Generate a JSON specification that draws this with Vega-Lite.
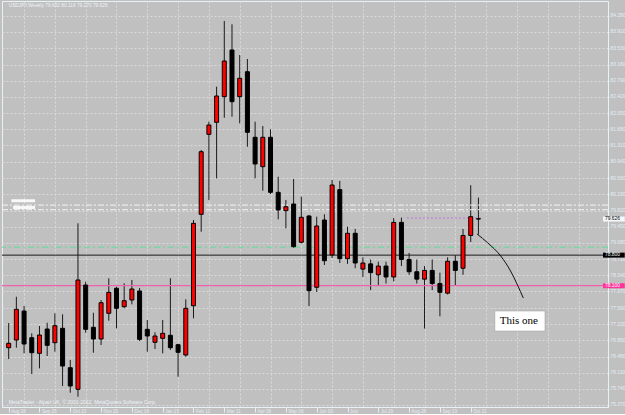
{
  "$schema": "https://vega.github.io/schema/vega-lite/v6.json",
  "width": 606,
  "height": 406,
  "padding": {"left": 1, "top": 1, "right": 0, "bottom": 0},
  "background": "#c0c0c0",
  "config": {"view": {"stroke": "#e6f2f5", "strokeWidth": 1, "fill": "#c0c0c0"}, "font": "Liberation Sans"},
  "data": {"values": [
    {"date": "2011-08-28", "open": 76.681, "high": 77.246, "low": 76.422, "close": 76.782},
    {"date": "2011-09-04", "open": 76.857, "high": 77.848, "low": 76.681, "close": 77.560},
    {"date": "2011-09-11", "open": 77.521, "high": 77.636, "low": 76.553, "close": 76.766},
    {"date": "2011-09-18", "open": 76.910, "high": 77.011, "low": 76.079, "close": 76.567},
    {"date": "2011-09-25", "open": 76.553, "high": 77.178, "low": 76.210, "close": 76.972},
    {"date": "2011-10-02", "open": 77.109, "high": 77.253, "low": 76.491, "close": 76.736},
    {"date": "2011-10-09", "open": 76.796, "high": 77.469, "low": 76.590, "close": 77.185},
    {"date": "2011-10-16", "open": 77.125, "high": 77.446, "low": 75.805, "close": 76.262},
    {"date": "2011-10-23", "open": 76.223, "high": 76.400, "low": 75.651, "close": 75.805},
    {"date": "2011-10-30", "open": 75.729, "high": 79.528, "low": 75.560, "close": 78.231},
    {"date": "2011-11-06", "open": 78.116, "high": 78.192, "low": 77.025, "close": 77.102},
    {"date": "2011-11-13", "open": 77.148, "high": 77.482, "low": 76.567, "close": 76.880},
    {"date": "2011-11-20", "open": 76.880, "high": 77.773, "low": 76.743, "close": 77.711},
    {"date": "2011-11-27", "open": 77.469, "high": 78.270, "low": 77.299, "close": 77.949},
    {"date": "2011-12-04", "open": 78.041, "high": 78.077, "low": 77.125, "close": 77.583},
    {"date": "2011-12-11", "open": 77.620, "high": 78.155, "low": 77.583, "close": 77.757},
    {"date": "2011-12-18", "open": 77.773, "high": 78.231, "low": 77.674, "close": 78.025},
    {"date": "2011-12-25", "open": 77.979, "high": 78.048, "low": 76.835, "close": 76.873},
    {"date": "2012-01-01", "open": 77.102, "high": 77.315, "low": 76.590, "close": 76.949},
    {"date": "2012-01-08", "open": 76.805, "high": 77.034, "low": 76.651, "close": 76.949},
    {"date": "2012-01-15", "open": 76.896, "high": 77.315, "low": 76.553, "close": 77.011},
    {"date": "2012-01-22", "open": 76.965, "high": 78.270, "low": 76.629, "close": 76.681},
    {"date": "2012-01-29", "open": 76.750, "high": 76.770, "low": 76.017, "close": 76.576},
    {"date": "2012-02-05", "open": 76.514, "high": 77.789, "low": 76.475, "close": 77.583},
    {"date": "2012-02-12", "open": 77.642, "high": 79.604, "low": 77.354, "close": 79.528},
    {"date": "2012-02-19", "open": 79.734, "high": 81.206, "low": 79.336, "close": 81.167},
    {"date": "2012-02-26", "open": 81.565, "high": 81.854, "low": 80.062, "close": 81.778},
    {"date": "2012-03-04", "open": 81.840, "high": 82.655, "low": 80.558, "close": 82.442},
    {"date": "2012-03-11", "open": 82.426, "high": 84.159, "low": 81.945, "close": 83.243},
    {"date": "2012-03-18", "open": 83.495, "high": 84.083, "low": 81.968, "close": 82.312},
    {"date": "2012-03-25", "open": 82.426, "high": 83.380, "low": 81.817, "close": 82.847},
    {"date": "2012-04-01", "open": 82.998, "high": 83.289, "low": 81.282, "close": 81.611},
    {"date": "2012-04-08", "open": 81.497, "high": 81.854, "low": 80.558, "close": 80.886},
    {"date": "2012-04-15", "open": 80.824, "high": 81.755, "low": 80.275, "close": 81.497},
    {"date": "2012-04-22", "open": 81.497, "high": 81.680, "low": 80.199, "close": 80.238},
    {"date": "2012-04-29", "open": 80.238, "high": 80.595, "low": 79.620, "close": 79.833},
    {"date": "2012-05-06", "open": 79.817, "high": 80.062, "low": 79.414, "close": 79.908},
    {"date": "2012-05-13", "open": 79.970, "high": 80.542, "low": 78.970, "close": 78.993},
    {"date": "2012-05-20", "open": 79.094, "high": 80.137, "low": 79.071, "close": 79.666},
    {"date": "2012-05-27", "open": 79.696, "high": 79.720, "low": 77.636, "close": 77.986},
    {"date": "2012-06-03", "open": 78.064, "high": 79.680, "low": 77.956, "close": 79.467},
    {"date": "2012-06-10", "open": 79.604, "high": 79.734, "low": 78.574, "close": 78.672},
    {"date": "2012-06-17", "open": 78.803, "high": 80.520, "low": 78.734, "close": 80.405},
    {"date": "2012-06-24", "open": 80.300, "high": 80.500, "low": 78.620, "close": 78.720},
    {"date": "2012-07-01", "open": 78.720, "high": 79.450, "low": 78.600, "close": 79.300},
    {"date": "2012-07-08", "open": 79.300, "high": 79.400, "low": 78.500, "close": 78.620},
    {"date": "2012-07-15", "open": 78.480, "high": 78.750, "low": 78.300, "close": 78.620},
    {"date": "2012-07-22", "open": 78.600, "high": 78.700, "low": 78.000, "close": 78.400},
    {"date": "2012-07-29", "open": 78.350, "high": 78.650, "low": 78.100, "close": 78.550},
    {"date": "2012-08-05", "open": 78.550, "high": 78.650, "low": 78.150, "close": 78.300},
    {"date": "2012-08-12", "open": 78.300, "high": 79.650, "low": 78.200, "close": 79.550},
    {"date": "2012-08-19", "open": 79.550, "high": 79.660, "low": 78.550, "close": 78.700},
    {"date": "2012-08-26", "open": 78.700, "high": 78.850, "low": 78.350, "close": 78.420},
    {"date": "2012-09-02", "open": 78.420, "high": 78.700, "low": 78.150, "close": 78.250},
    {"date": "2012-09-09", "open": 78.250, "high": 78.550, "low": 77.120, "close": 78.450},
    {"date": "2012-09-16", "open": 78.450, "high": 78.700, "low": 78.000, "close": 78.150},
    {"date": "2012-09-23", "open": 78.150, "high": 78.400, "low": 77.400, "close": 77.950},
    {"date": "2012-09-30", "open": 77.930, "high": 78.750, "low": 77.900, "close": 78.660},
    {"date": "2012-10-07", "open": 78.660, "high": 78.800, "low": 78.100, "close": 78.450},
    {"date": "2012-10-14", "open": 78.500, "high": 79.400, "low": 78.350, "close": 79.250},
    {"date": "2012-10-21", "open": 79.250, "high": 80.400, "low": 79.100, "close": 79.680},
    {"date": "2012-10-28", "open": 79.632, "high": 80.116, "low": 79.270, "close": 79.626}
  ]},
  "layer": [
    {
      "mark": {"type": "rule", "color": "#1a1a1a", "strokeWidth": 1},
      "encoding": {
        "x": {
          "field": "date", "type": "temporal",
          "scale": {"type": "utc", "domain": [
            {"year": 2011, "month": 8, "date": 26, "hours": 11, "minutes": 30, "utc": true},
            {"year": 2013, "month": 2, "date": 18, "hours": 5, "minutes": 45, "utc": true}
          ]},
          "axis": {
            "title": null,
            "tickCount": 200,
            "values": [
              {"year": 2011, "month": 8, "date": 28, "utc": true},
              {"year": 2011, "month": 9, "date": 11, "utc": true},
              {"year": 2011, "month": 9, "date": 25, "utc": true},
              {"year": 2011, "month": 10, "date": 9, "utc": true},
              {"year": 2011, "month": 10, "date": 23, "utc": true},
              {"year": 2011, "month": 11, "date": 6, "utc": true},
              {"year": 2011, "month": 11, "date": 20, "utc": true},
              {"year": 2011, "month": 12, "date": 4, "utc": true},
              {"year": 2011, "month": 12, "date": 18, "utc": true},
              {"year": 2012, "month": 1, "date": 1, "utc": true},
              {"year": 2012, "month": 1, "date": 15, "utc": true},
              {"year": 2012, "month": 1, "date": 29, "utc": true},
              {"year": 2012, "month": 2, "date": 12, "utc": true},
              {"year": 2012, "month": 2, "date": 26, "utc": true},
              {"year": 2012, "month": 3, "date": 11, "utc": true},
              {"year": 2012, "month": 3, "date": 25, "utc": true},
              {"year": 2012, "month": 4, "date": 8, "utc": true},
              {"year": 2012, "month": 4, "date": 22, "utc": true},
              {"year": 2012, "month": 5, "date": 6, "utc": true},
              {"year": 2012, "month": 5, "date": 20, "utc": true},
              {"year": 2012, "month": 6, "date": 3, "utc": true},
              {"year": 2012, "month": 6, "date": 17, "utc": true},
              {"year": 2012, "month": 7, "date": 1, "utc": true},
              {"year": 2012, "month": 7, "date": 15, "utc": true},
              {"year": 2012, "month": 7, "date": 29, "utc": true},
              {"year": 2012, "month": 8, "date": 12, "utc": true},
              {"year": 2012, "month": 8, "date": 26, "utc": true},
              {"year": 2012, "month": 9, "date": 9, "utc": true},
              {"year": 2012, "month": 9, "date": 23, "utc": true},
              {"year": 2012, "month": 10, "date": 7, "utc": true},
              {"year": 2012, "month": 10, "date": 21, "utc": true},
              {"year": 2012, "month": 11, "date": 4, "utc": true},
              {"year": 2012, "month": 12, "date": 2, "utc": true},
              {"year": 2012, "month": 12, "date": 30, "utc": true},
              {"year": 2013, "month": 1, "date": 27, "utc": true}
            ],
            "format": "%-d %b %Y",
            "formatType": "utc",
            "labelExpr": "round((datum.value - 1314489600000) / 604800000) % 4 === 0 ? datum.label : ''",
            "labelAlign": "left",
            "labelBaseline": "top",
            "labelPadding": -3.5,
            "labelOffset": 2,
            "labelFontSize": 4.6,
            "labelFont": "Liberation Sans",
            "labelColor": "#e6eef4",
            "labelOverlap": false,
            "labelFlush": false,
            "tickSize": 5,
            "tickColor": "#e6eef4",
            "tickOpacity": {"condition": {"test": "round((datum.value - 1314489600000) / 604800000) % 4 === 0", "value": 1}, "value": 0},
            "grid": true,
            "gridColor": "#dadada",
            "gridDash": [2, 2],
            "gridOpacity": {"condition": {"test": "round((datum.value - 1314489600000) / 604800000) % 4 === 2", "value": 1}, "value": 0},
            "domainColor": "#e6f2f5"
          }
        },
        "y": {
          "field": "low", "type": "quantitative",
          "scale": {"domain": [75.3242, 84.6164], "nice": false, "zero": false},
          "axis": {
            "orient": "right",
            "title": null,
            "tickCount": 200,
            "values": [84.28, 83.91, 83.53, 83.16, 82.79, 82.42, 82.05, 81.68, 81.31, 80.94, 80.56, 80.19, 79.82, 79.45, 79.08, 78.71, 78.34, 77.97, 77.59, 77.22, 76.85, 76.48, 76.11, 75.74, 75.37],
            "format": ".3f",
            "labelFontSize": 4.9,
            "labelFont": "Liberation Sans",
            "labelColor": "#e6eef4",
            "labelPadding": 1,
            "labelBaseline": "middle",
            "labelOverlap": false,
            "tickSize": 1,
            "tickColor": "#e6eef4",
            "grid": true,
            "gridColor": "#dadada",
            "gridDash": [2, 2],
            "domainColor": "#e6f2f5"
          }
        },
        "y2": {"field": "high"}
      }
    },
    {
      "data": {"values": [{}]},
      "mark": {"type": "rule", "color": "#66dd99", "strokeWidth": 1, "strokeDash": [6, 3, 2, 3]},
      "encoding": {"y": {"datum": 78.98, "type": "quantitative"}}
    },
    {
      "data": {"values": [{}]},
      "mark": {"type": "rule", "color": "#f4f4f4", "strokeWidth": 1, "strokeDash": [6, 2, 2, 2]},
      "encoding": {"y": {"datum": 79.945, "type": "quantitative"}}
    },
    {
      "data": {"values": [{}]},
      "mark": {"type": "rule", "color": "#f4f4f4", "strokeWidth": 1, "strokeDash": [6, 2, 2, 2]},
      "encoding": {"y": {"datum": 79.84, "type": "quantitative"}}
    },
    {
      "data": {"values": [{}]},
      "mark": {"type": "rule", "color": "#1a1a1a", "strokeWidth": 1},
      "encoding": {"y": {"datum": 78.80, "type": "quantitative"}}
    },
    {
      "data": {"values": [{}]},
      "mark": {"type": "rule", "color": "#f060b0", "strokeWidth": 1.2},
      "encoding": {"y": {"datum": 78.10, "type": "quantitative"}}
    },
    {
      "data": {"values": [{}]},
      "mark": {"type": "rule", "color": "#c070e0", "strokeWidth": 1, "strokeDash": [2, 2]},
      "encoding": {
        "x": {"datum": {"year": 2012, "month": 8, "date": 24, "utc": true}, "type": "temporal"},
        "x2": {"datum": {"year": 2012, "month": 11, "date": 1, "utc": true}},
        "y": {"datum": 79.65, "type": "quantitative"}
      }
    },
    {
      "mark": {"type": "bar", "size": 4, "stroke": "#000000", "strokeWidth": 1},
      "encoding": {
        "x": {"field": "date", "type": "temporal"},
        "y": {"field": "open", "type": "quantitative"},
        "y2": {"field": "close"},
        "fill": {"condition": {"test": "datum.close > datum.open", "value": "#ff0000"}, "value": "#000000"}
      }
    },
    {
      "data": {"values": [
        {"date": "2012-10-26T19:30:00Z", "price": 79.283},
        {"date": "2012-11-05T14:00:00Z", "price": 79.078},
        {"date": "2012-11-17T07:00:00Z", "price": 78.780},
        {"date": "2012-11-26T05:00:00Z", "price": 78.437},
        {"date": "2012-12-02T12:00:00Z", "price": 78.116},
        {"date": "2012-12-07T19:00:00Z", "price": 77.819}
      ]},
      "mark": {"type": "line", "color": "#111111", "strokeWidth": 1, "interpolate": "monotone"},
      "encoding": {
        "x": {"field": "date", "type": "temporal"},
        "y": {"field": "price", "type": "quantitative"}
      }
    },
    {
      "data": {"values": [{"from": "2012-11-11T22:00:00Z", "to": "2012-12-27T12:00:00Z", "top": 77.521, "bottom": 77.063}]},
      "mark": {"type": "rect", "fill": "#ffffff", "stroke": "#9a9a9a", "strokeWidth": 0.5},
      "encoding": {
        "x": {"field": "from", "type": "temporal"},
        "x2": {"field": "to"},
        "y": {"field": "top", "type": "quantitative"},
        "y2": {"field": "bottom"}
      }
    },
    {
      "data": {"values": [{"note": "This one", "date": "2012-11-16T10:00:00Z", "price": 77.292}]},
      "mark": {"type": "text", "align": "left", "baseline": "middle", "font": "Liberation Serif", "fontSize": 11, "color": "#000000"},
      "encoding": {
        "x": {"field": "date", "type": "temporal"},
        "y": {"field": "price", "type": "quantitative"},
        "text": {"field": "note"}
      }
    },
    {
      "data": {"values": [
        {"from": "2011-08-30T12:00:00Z", "to": "2011-09-21T00:00:00Z", "top": 80.078, "bottom": 80.009},
        {"from": "2011-09-01T00:00:00Z", "to": "2011-09-21T00:00:00Z", "top": 79.924, "bottom": 79.856}
      ]},
      "mark": {"type": "rect", "fill": "#f8f8f8"},
      "encoding": {
        "x": {"field": "from", "type": "temporal"},
        "x2": {"field": "to"},
        "y": {"field": "top", "type": "quantitative"},
        "y2": {"field": "bottom"}
      }
    },
    {
      "data": {"values": [{}]},
      "mark": {"type": "text", "align": "left", "baseline": "middle", "fontSize": 4.8, "color": "#eef4f8", "text": "USDJPY,Weekly  79.632 80.116 79.270 79.626"},
      "encoding": {
        "x": {"datum": {"year": 2011, "month": 8, "date": 28, "utc": true}, "type": "temporal"},
        "y": {"datum": 84.50, "type": "quantitative"}
      }
    },
    {
      "data": {"values": [{}]},
      "mark": {"type": "text", "align": "left", "baseline": "middle", "fontSize": 5, "color": "#eef4f8", "text": "MetaTrader - Alpari UK, © 2001-2012, MetaQuotes Software Corp."},
      "encoding": {
        "x": {"datum": {"year": 2011, "month": 8, "date": 28, "utc": true}, "type": "temporal"},
        "y": {"datum": 75.432, "type": "quantitative"}
      }
    },
    {
      "data": {"values": [
        {"price": 79.626, "label": "79.626", "box": "#f4f8fa", "ink": "#000000"},
        {"price": 78.800, "label": "78.800", "box": "#000000", "ink": "#ffffff"},
        {"price": 78.100, "label": "78.100", "box": "#ff3399", "ink": "#ffffff"}
      ]},
      "layer": [
        {
          "mark": {"type": "rect", "height": 5},
          "encoding": {
            "x": {"datum": {"year": 2013, "month": 2, "date": 18, "hours": 5, "minutes": 45, "utc": true}, "type": "temporal"},
            "x2": {"datum": {"year": 2013, "month": 3, "date": 10, "utc": true}},
            "y": {"field": "price", "type": "quantitative"},
            "fill": {"field": "box", "type": "nominal", "scale": null}
          }
        },
        {
          "mark": {"type": "text", "align": "left", "baseline": "middle", "fontSize": 4.9, "dx": 2},
          "encoding": {
            "x": {"datum": {"year": 2013, "month": 2, "date": 18, "hours": 5, "minutes": 45, "utc": true}, "type": "temporal"},
            "y": {"field": "price", "type": "quantitative"},
            "text": {"field": "label"},
            "color": {"field": "ink", "type": "nominal", "scale": null}
          }
        }
      ]
    }
  ]
}
